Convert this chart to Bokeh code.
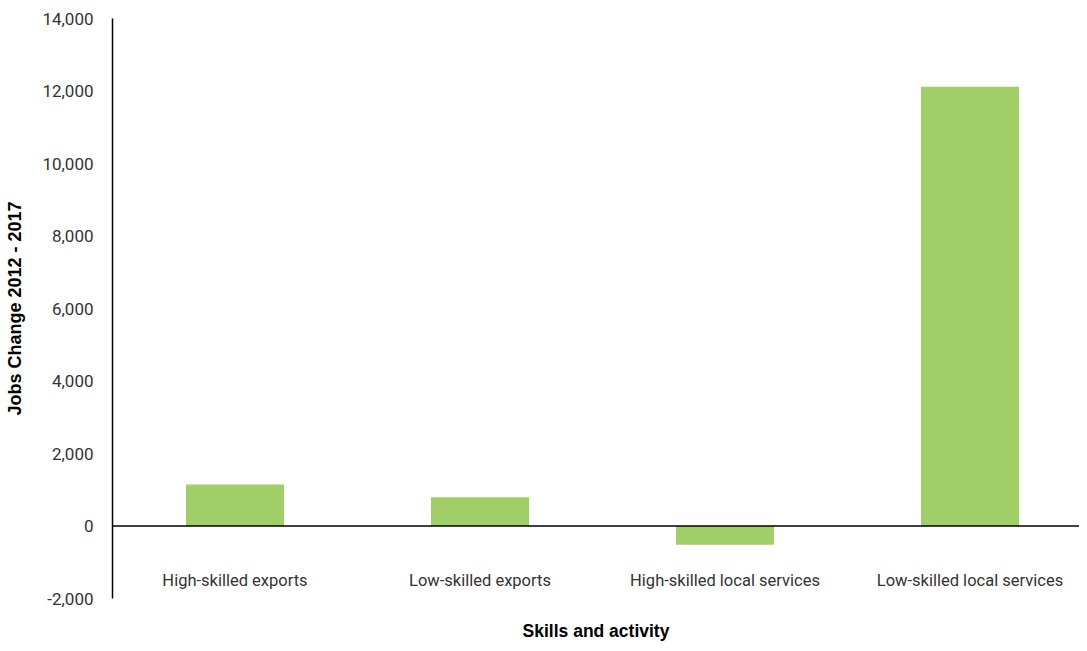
from bokeh.plotting import figure
from bokeh.models import Range1d, FixedTicker, NumeralTickFormatter, Span, ColumnDataSource
from bokeh.core.properties import value
from bokeh.embed import file_html
from bokeh.resources import INLINE

categories = ["High-skilled exports", "Low-skilled exports", "High-skilled local services", "Low-skilled local services"]
jobs_change = [1145, 790, -520, 12120]
y_ticks = [-2000, 0, 2000, 4000, 6000, 8000, 10000, 12000, 14000]

xpos = [i + 0.5 for i in range(len(categories))]
src = ColumnDataSource(dict(x=xpos, top=jobs_change, cat=categories, zero=[0] * len(categories)))

p = figure(width=1079, height=643, output_backend="svg", toolbar_location=None,
           x_range=Range1d(0, 3.947), y_range=Range1d(-2000, 14000),
           min_border_left=112, min_border_right=0, min_border_top=18, min_border_bottom=45)
p.outline_line_color = None
p.grid.visible = False

p.vbar(x="x", top="top", bottom=0, width=0.4, source=src, color="#a0cf67", line_color=None)
p.add_layout(Span(location=0, dimension="width", line_color="#000000", line_width=1.5))

p.text(x="x", y="zero", text="cat", source=src, y_offset=54, text_align="center", text_baseline="middle",
       text_font=value("Roboto"), text_font_size="16.5px", text_color="#333333")

p.yaxis.ticker = FixedTicker(ticks=y_ticks)
p.yaxis.formatter = NumeralTickFormatter(format="0,0")
p.yaxis.major_tick_line_color = None
p.yaxis.minor_tick_line_color = None
p.yaxis.axis_line_color = "#000000"
p.yaxis.axis_line_width = 1.5
p.yaxis.major_label_text_font = "Roboto"
p.yaxis.major_label_text_font_size = "17px"
p.yaxis.major_label_text_color = "#333333"
p.yaxis.major_label_standoff = 13
p.yaxis.axis_label = "Jobs Change 2012 - 2017"
p.yaxis.axis_label_text_font = "Liberation Sans"
p.yaxis.axis_label_text_font_style = "bold"
p.yaxis.axis_label_text_font_size = "18px"
p.yaxis.axis_label_text_color = "#000000"
p.yaxis.axis_label_standoff = 14

p.xaxis.ticker = FixedTicker(ticks=[])
p.xaxis.axis_line_color = None
p.xaxis.major_tick_line_color = None
p.xaxis.minor_tick_line_color = None
p.xaxis.major_label_text_font_size = "0px"
p.xaxis.axis_label = "Skills and activity"
p.xaxis.axis_label_text_font = "Liberation Sans"
p.xaxis.axis_label_text_font_style = "bold"
p.xaxis.axis_label_text_font_size = "17.5px"
p.xaxis.axis_label_text_color = "#000000"
p.xaxis.axis_label_standoff = 22

open("out.html", "w").write(file_html(p, INLINE))
